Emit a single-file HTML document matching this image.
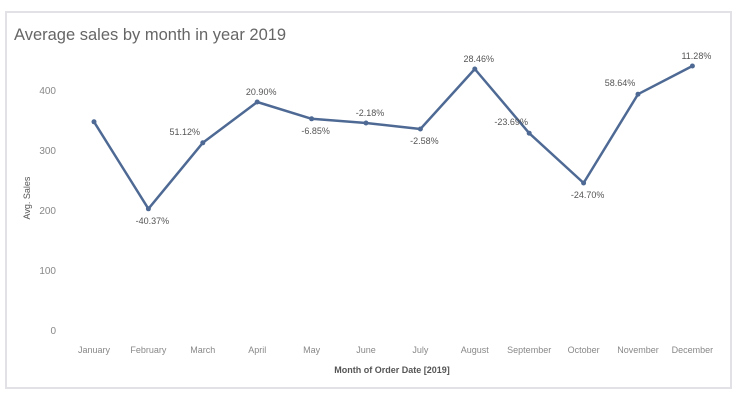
<!DOCTYPE html>
<html><head><meta charset="utf-8"><style>
body{margin:0;background:#fff;width:744px;height:405px;overflow:hidden;font-family:"Liberation Sans",sans-serif}
svg text{font-family:"Liberation Sans",sans-serif}
</style></head><body>
<svg id="chart" width="744" height="405" viewBox="0 0 744 405">
<rect x="6" y="12" width="725" height="376" fill="#fff" stroke="#e2e2e6" stroke-width="2"/>
<text x="14" y="40" font-size="16.5" fill="#666">Average sales by month in year 2019</text>
<text transform="translate(30,198) rotate(-90)" text-anchor="middle" font-size="9" fill="#555">Avg. Sales</text>
<text x="392" y="373" text-anchor="middle" font-size="9" font-weight="bold" fill="#555">Month of Order Date [2019]</text>
<g id="axes"></g><g id="marks"></g>
</svg>
<script>
const months=["January","February","March","April","May","June","July","August","September","October","November","December"];
const sales=[347,202,312,380,352,345,335,435,328,245,393,440];
const pctLabels=["","-40.37%","51.12%","20.90%","-6.85%","-2.18%","-2.58%","28.46%","-23.69%","-24.70%","58.64%","11.28%"];
const labelPos=["","below","left","above","below","above","below","above","left","below","left","above"];
const yTicks=[0,100,200,300,400];
const ns="http://www.w3.org/2000/svg";
const x=i=>94+i*54.4;
const y=v=>330-v*0.6;
const axes=document.getElementById('axes'),marks=document.getElementById('marks');
function mk(t,a,p){const e=document.createElementNS(ns,t);for(const k in a)e.setAttribute(k,a[k]);p.appendChild(e);return e;}
yTicks.forEach(v=>{const t=mk('text',{x:56,y:y(v)+4,'text-anchor':'end','font-size':10,fill:'#888'},axes);t.textContent=v;

});
months.forEach((m,i)=>{const t=mk('text',{x:x(i),y:353,'text-anchor':'middle','font-size':9,fill:'#888'},axes);t.textContent=m;

});
const pl=mk('polyline',{points:sales.map((v,i)=>x(i)+','+y(v)).join(' '),fill:'none',stroke:'#4e6a94','stroke-width':2.5,'stroke-linejoin':'round'},marks);


sales.forEach((v,i)=>{const c=mk('circle',{cx:x(i),cy:y(v),r:2.5,fill:'#4e6a94'},marks);


if(pctLabels[i]){const p=labelPos[i];
const lx=p=="left"?x(i)-18:x(i)+4;
const ly=p=="above"?y(v)-7:(p=="left"?y(v)-8:y(v)+15);
const t=mk('text',{x:lx,y:ly,'text-anchor':'middle','font-size':9,fill:'#555'},marks);t.textContent=pctLabels[i];

}});
</script>
</body></html>
